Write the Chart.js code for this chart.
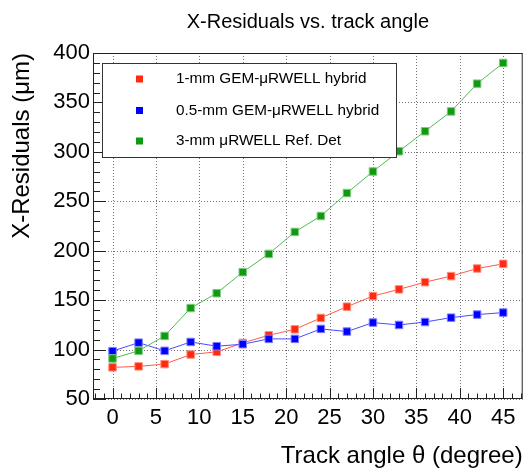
<!DOCTYPE html>
<html><head><meta charset="utf-8">
<style>html,body{margin:0;padding:0;background:#fff;}#wrap{width:529px;height:469px;}</style>
<script src="https://cdn.jsdelivr.net/npm/chart.js@4/dist/chart.umd.min.js"></script>
</head><body><div id="wrap"><canvas id="c" width="529" height="469"></canvas></div>
<script>
const angles   = [0, 3, 6, 9, 12, 15, 18, 21, 24, 27, 30, 33, 36, 39, 42, 45];
const res1mm   = [82, 83, 85.3, 95, 97.7, 106.7, 114.5, 120.5, 132, 143.4, 154.1, 160.9, 168.2, 174.3, 182, 186.7];
const res05mm  = [98.4, 107, 98.7, 107.7, 103.4, 105.4, 110.8, 110.8, 120.9, 118.2, 127.3, 124.9, 127.9, 132.3, 135.4, 137.4];
const res3mm   = [91, 98.7, 113.8, 142, 157, 178.3, 196.8, 219, 235.1, 258.3, 280.1, 300.6, 320.8, 340.9, 369, 389.9];
const seriesNames = ['1-mm GEM-\u03bcRWELL hybrid', '0.5-mm GEM-\u03bcRWELL hybrid', '3-mm \u03bcRWELL Ref. Det'];
const xTicks = [0, 5, 10, 15, 20, 25, 30, 35, 40, 45];
const yTicks = [50, 100, 150, 200, 250, 300, 350, 400];
const chartTitle = 'X-Residuals vs. track angle';
const xTitle = 'Track angle \u03b8 (degree)';
const yTitle = 'X-Residuals (\u03bcm)';

const FONT = "'Liberation Sans', Arial, Helvetica, sans-serif";
const colors = [
  {fill:'#ff2a0f', edge:'#ff8f80', line:'#ff5a4a'},
  {fill:'#0000ff', edge:'#7f7fff', line:'#4a4aff'},
  {fill:'#129912', edge:'#7fcc7f', line:'#52bb52'}
];
const seriesVals = [res1mm, res05mm, res3mm];

function pts(vals){ return angles.map((a,i)=>({x:a, y:vals[i]})); }

const datasets = seriesVals.map((v,i)=>({
  label: seriesNames[i],
  data: pts(v),
  showLine: true,
  borderColor: colors[i].line,
  borderWidth: 1,
  pointStyle: 'rect',
  pointRadius: 5.3,
  pointBackgroundColor: colors[i].fill,
  pointBorderColor: colors[i].edge,
  pointBorderWidth: 1,
  order: 3 - i
}));

const decor = {
  id: 'decor',
  beforeDatasetsDraw(chart){
    const {ctx, chartArea:a, scales:{x, y}} = chart;
    ctx.save();
    ctx.strokeStyle = 'rgba(0,0,0,0.55)';
    ctx.lineWidth = 1;
    ctx.setLineDash([1, 2]);
    xTicks.forEach(v=>{
      const px = Math.round(x.getPixelForValue(v)) + 0.5;
      ctx.beginPath(); ctx.moveTo(px, a.top); ctx.lineTo(px, a.bottom); ctx.stroke();
    });
    yTicks.forEach(v=>{
      const py = Math.round(y.getPixelForValue(v)) + 0.5;
      ctx.beginPath(); ctx.moveTo(a.left, py); ctx.lineTo(a.right, py); ctx.stroke();
    });
    ctx.restore();
  },
  afterDatasetsDraw(chart){
    const {ctx, chartArea:a, scales:{x, y}} = chart;
    ctx.save();
    ctx.setLineDash([]);
    ctx.strokeStyle = '#222';
    ctx.lineWidth = 1;
    ctx.strokeRect(a.left + 0.5, a.top + 0.5, a.right - a.left - 1, a.bottom - a.top - 1);
    for (let v = Math.ceil(x.min); v <= x.max; v += 1) {
      const px = Math.round(x.getPixelForValue(v)) + 0.5;
      const major = xTicks.includes(v);
      const len = major ? 11 : 5.5;
      ctx.beginPath(); ctx.moveTo(px, a.bottom); ctx.lineTo(px, a.bottom - len); ctx.stroke();
    }
    for (let v = y.min; v <= y.max; v += 10) {
      const py = Math.round(y.getPixelForValue(v)) + 0.5;
      const major = yTicks.includes(v);
      const len = major ? 13 : 7;
      ctx.beginPath(); ctx.moveTo(a.left, py); ctx.lineTo(a.left + len, py); ctx.stroke();
    }
    const lx = a.left + 9, ly = a.top + 10, lw = 294, lh = 94;
    ctx.fillStyle = '#fff';
    ctx.fillRect(lx, ly, lw, lh);
    ctx.strokeStyle = '#333';
    ctx.strokeRect(lx + 0.5, ly + 0.5, lw, lh);
    const rows = [16, 47.5, 78];
    ctx.font = '15.3px ' + FONT;
    ctx.textBaseline = 'middle';
    ctx.textAlign = 'left';
    seriesNames.forEach((n,i)=>{
      const cy = ly + rows[i];
      ctx.fillStyle = colors[i].fill;
      ctx.fillRect(lx + 34, cy - 3.5, 7, 7);
      ctx.fillStyle = '#000';
      ctx.fillText(n, lx + 74, cy);
    });
    ctx.restore();
  }
};

new Chart(document.getElementById('c'), {
  type: 'scatter',
  data: { datasets },
  plugins: [decor],
  options: {
    responsive: false,
    animation: false,
    devicePixelRatio: 1,
    layout: { padding: { left: 0, right: 2, top: 0, bottom: 0 } },
    plugins: {
      legend: { display: false },
      tooltip: { enabled: false },
      title: {
        display: true, text: chartTitle, fullSize: false, color: '#000',
        font: { family: FONT, size: 20, weight: 'normal' },
        padding: { top: 10, bottom: 19 }
      }
    },
    scales: {
      x: {
        type: 'linear', min: -2.25, max: 47.25,
        afterBuildTicks: s => { s.ticks = xTicks.map(v => ({ value: v })); },
        afterFit: s => { s.height = 70; },
        grid: { display: false, drawTicks: false },
        border: { display: false },
        ticks: { color: '#000', font: { family: FONT, size: 22 }, padding: 6, maxRotation: 0, autoSkip: false },
        title: { display: true, text: xTitle, align: 'end', color: '#000',
                 font: { family: FONT, size: 24 }, padding: { top: 0, bottom: -2 } }
      },
      y: {
        type: 'linear', min: 50, max: 400,
        afterBuildTicks: s => { s.ticks = yTicks.map(v => ({ value: v })); },
        afterFit: s => { s.width = 93; },
        grid: { display: false, drawTicks: false },
        border: { display: false },
        ticks: { color: '#000', font: { family: FONT, size: 22 }, padding: 3, autoSkip: false },
        title: { display: true, text: yTitle, align: 'end', color: '#000',
                 font: { family: FONT, size: 24 }, padding: { top: 8, bottom: 0 } }
      }
    }
  }
});
</script></body></html>
